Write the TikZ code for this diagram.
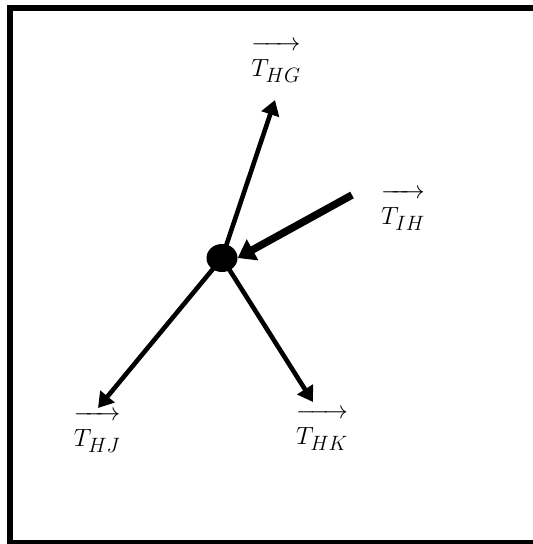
\documentclass[tikz,border=0pt]{standalone}
\usetikzlibrary{arrows.meta,shapes.geometric}
\tikzset{forcediag/.style={x=1pt,y=-1pt,font=\fontsize{28}{30}\selectfont},
  force/.style={line width=4.6pt,-{Triangle[length=15pt,width=18pt]}},
  pull/.style={line width=7.5pt,-{Triangle[length=17pt,width=23pt]}},
  lbl/.style={inner sep=0pt}}
\newcommand{\vecT}[1]{$\overrightarrow{\rule{0pt}{0.95em}T_{#1}}$}

\begin{document}
\begin{tikzpicture}[forcediag]
    \clip (0,0) rectangle (533,544);
    \draw[line width=6pt] (545,8) -- (9.5,8) -- (9.5,542.5) -- (545,542.5);
    \node[ellipse,fill=black,minimum width=31pt,minimum height=28pt,inner sep=0pt] (H) at (222,258) {};
    \coordinate (G) at (275,100);
    \coordinate (I) at (352,195);
    \coordinate (J) at (98,408);
    \coordinate (K) at (313,402);
    \draw[force] (H.center) -- (G);
    \draw[force] (H.center) -- (J);
    \draw[force] (H.center) -- (K);
    \draw[pull] (I) -- (H.east);
    \node[lbl] (tHG) at (276,62) {\vecT{HG}};
    \node[lbl] (tIH) at (403,210) {\vecT{IH}};
    \node[lbl] (tHJ) at (97,432) {\vecT{HJ}};
    \node[lbl] (tHK) at (322,430) {\vecT{HK}};
\end{tikzpicture}
\end{document}
